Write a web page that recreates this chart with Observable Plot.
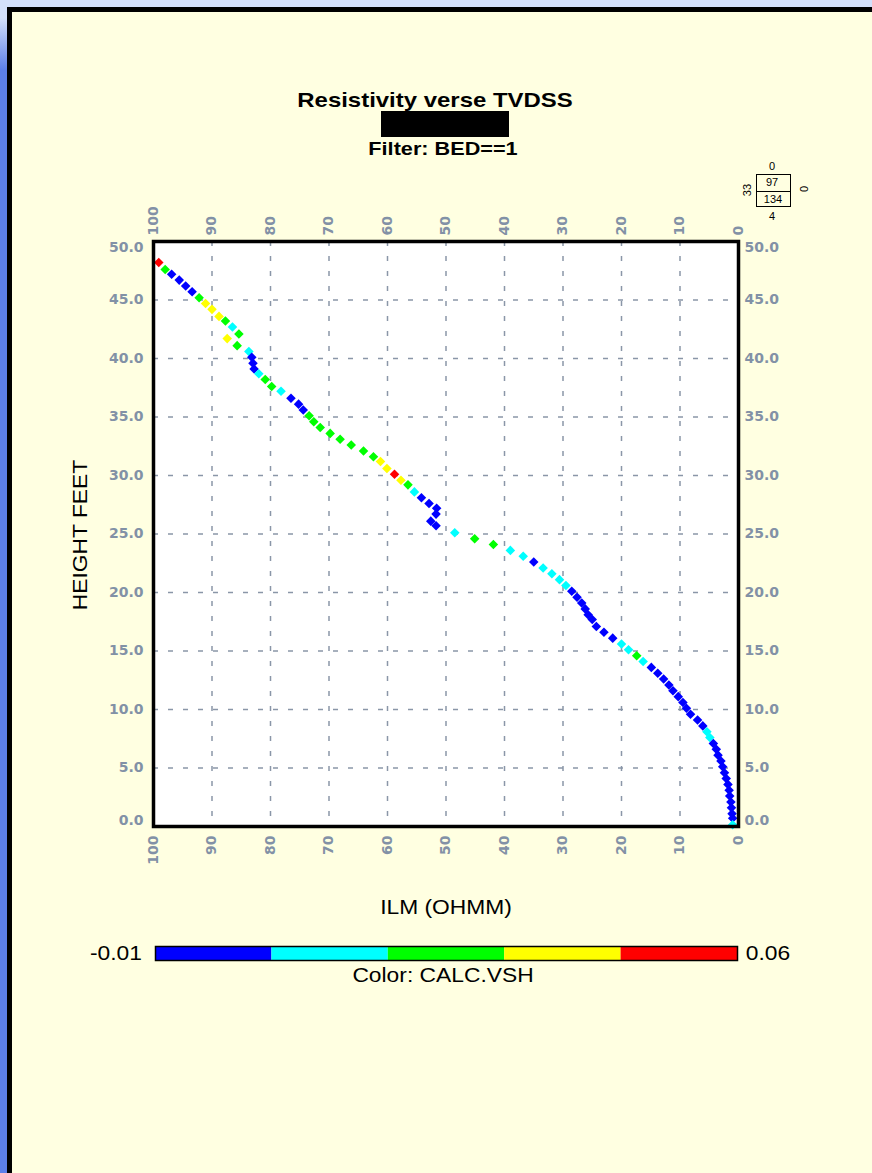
<!DOCTYPE html>
<html><head><meta charset="utf-8">
<script src="https://cdn.jsdelivr.net/npm/d3@7"></script>
<script src="https://cdn.jsdelivr.net/npm/@observablehq/plot@0.6"></script>
<style>
html,body{margin:0;padding:0;}
body{width:872px;height:1173px;position:relative;overflow:hidden;background:#d3e0fb;font-family:"Liberation Sans",Arial,sans-serif;}
#strip{position:absolute;left:0;top:0;width:8px;height:1173px;background:linear-gradient(#d3e0fb 0px,#d3e0fb 18px,#5c7fe9 70px,#5c7fe9 100%);}
#panel{position:absolute;left:7px;top:7px;right:0;bottom:0;background:#ffffe1;border-left:5px solid #000;border-top:5px solid #000;}
.t{position:absolute;white-space:nowrap;transform:translate(-50%,-50%) scaleX(1.14);color:#000;line-height:1;}
.s{position:absolute;white-space:nowrap;transform:translate(-50%,-50%);color:#000;line-height:1;font-size:11px;}
#chart,#cbar{position:absolute;left:0;}
#chart{top:0;}
#cbar{top:944px;}
#redact{position:absolute;left:381px;top:111px;width:128px;height:26px;background:#000;}
#box{position:absolute;left:756px;top:174px;width:35px;height:33px;border:1px solid #000;box-sizing:border-box;}
#box div{position:absolute;left:0;right:0;top:16px;border-top:1px solid #000;}
</style></head>
<body>
<div id="strip"></div>
<div id="panel"></div>
<div id="chart"></div>
<div id="cbar"></div>
<div class="t" style="left:435px;top:99px;font-size:21px;font-weight:bold;">Resistivity verse TVDSS</div>
<div id="redact"></div>
<div class="t" style="left:443px;top:148px;font-size:19px;font-weight:bold;">Filter: BED==1</div>
<div class="s" style="left:772px;top:166px;">0</div>
<div id="box"><div></div></div>
<div class="s" style="left:772px;top:182px;">97</div>
<div class="s" style="left:773px;top:199px;">134</div>
<div class="s" style="left:747px;top:190px;transform:translate(-50%,-50%) rotate(-90deg);">33</div>
<div class="s" style="left:804px;top:189px;transform:translate(-50%,-50%) rotate(-90deg);">0</div>
<div class="s" style="left:772px;top:216px;">4</div>
<div class="t" style="left:80px;top:535px;font-size:20px;transform:translate(-50%,-50%) rotate(-90deg) scaleX(1.14);">HEIGHT FEET</div>
<div class="t" style="left:446px;top:907px;font-size:20px;">ILM (OHMM)</div>
<div class="t" id="lmin" style="left:116px;top:953px;font-size:20px;"></div>
<div class="t" id="lmax" style="left:768px;top:953px;font-size:20px;"></div>
<div class="t" style="left:443px;top:975px;font-size:20px;">Color: CALC.VSH</div>
<script>
// ---- data ----
const ilm = [99.1,98.0,96.9,95.6,94.5,93.4,92.2,91.1,90.0,88.8,
  87.7,86.5,85.4,87.4,85.7,83.7,83.2,83.0,82.8,82.0,
  80.9,79.8,78.2,76.5,75.2,74.4,73.4,72.6,71.5,69.8,
  68.1,66.2,64.1,62.4,61.2,60.1,58.8,57.7,56.5,55.4,
  54.2,52.9,51.6,51.7,52.6,51.7,48.5,45.1,41.9,39.0,
  36.8,35.0,33.4,31.9,30.6,29.5,28.5,27.6,26.8,26.2,
  25.7,25.0,24.3,23.0,21.5,20.0,18.8,17.4,16.3,14.9,
  13.8,12.8,11.9,11.2,10.3,9.5,8.9,8.2,7.0,6.1,
  5.4,4.9,4.3,3.8,3.5,3.0,2.7,2.4,2.1,1.8,
  1.6,1.5,1.3,1.2,1.1,1.0,1.0];
const heightFeet = [48.2,47.6,47.2,46.7,46.2,45.7,45.2,44.7,44.2,43.6,
  43.2,42.7,42.1,41.7,41.1,40.6,40.1,39.6,39.1,38.7,
  38.2,37.6,37.2,36.6,36.1,35.6,35.1,34.6,34.1,33.6,
  33.1,32.6,32.1,31.6,31.2,30.6,30.1,29.6,29.2,28.6,
  28.1,27.6,27.2,26.7,26.1,25.7,25.1,24.6,24.1,23.6,
  23.1,22.6,22.1,21.6,21.1,20.6,20.1,19.6,19.1,18.6,
  18.1,17.7,17.1,16.6,16.1,15.6,15.1,14.6,14.1,13.6,
  13.1,12.6,12.1,11.6,11.1,10.6,10.1,9.6,9.1,8.6,
  8.1,7.6,7.1,6.6,6.1,5.6,5.1,4.6,4.1,3.6,
  3.1,2.6,2.1,1.6,1.1,0.7,0.15];
const vsh = [0.052,0.024,0.001,-0.002,0.000,0.002,0.027,0.038,0.041,0.036,
  0.022,0.012,0.026,0.040,0.023,0.010,0.001,-0.003,0.000,0.013,
  0.025,0.028,0.009,0.002,-0.001,0.000,0.021,0.024,0.027,0.030,
  0.025,0.022,0.026,0.028,0.037,0.042,0.051,0.039,0.024,0.011,
  0.001,-0.002,0.000,-0.004,0.002,0.000,0.012,0.027,0.023,0.010,
  0.014,0.003,0.009,0.011,0.015,0.008,
  0.002,-0.001,0.000,-0.003,0.001,0.003,-0.002,0.000,0.002,
  0.010,0.013,0.022,0.009,
  0.001,-0.002,0.000,0.002,-0.001,0.003,0.000,-0.003,0.001,0.002,0.003,
  0.006,0.008,
  0.002,0.001,-0.001,0.000,0.002,-0.002,0.001,0.000,-0.003,0.001,0.002,-0.001,0.000,0.001,
  0.007];
const vshBreaks = [-0.01, 0.004, 0.018, 0.032, 0.046, 0.06];
const vshColors = ["#0000ff", "#00ffff", "#00ff00", "#ffff00", "#ff0000"];
const xTicks = [0,10,20,30,40,50,60,70,80,90,100];
const yTicks = [0,5,10,15,20,25,30,35,40,45,50];

const data = ilm.map((v, i) => ({ilm: v, h: heightFeet[i], vsh: vsh[i]}));
const colorScale = {type: "threshold", domain: vshBreaks.slice(1, -1), range: vshColors};
const fmt = d3.format(".1f");
const grid = {stroke: "#8a96a8", strokeOpacity: 1, strokeWidth: 1.5, strokeDasharray: "5,10"};
const yMid = yTicks.filter(d => d > 0 && d < 50);
const yAxisOpts = (anchor, pad) => ({anchor, tickSize: 0, tickPadding: pad, tickFormat: fmt, label: null});

const chart = Plot.plot({
  width: 872, height: 900,
  marginTop: 241, marginBottom: 74, marginLeft: 153, marginRight: 134,
  style: {background: "transparent", fontFamily: "DejaVu Sans", fontSize: "14px", fontWeight: "bold", color: "#8291a6", overflow: "visible"},
  x: {domain: [0, 100], reverse: true},
  y: {domain: [0, 50]},
  color: colorScale,
  marks: [
    Plot.frame({fill: "white", stroke: null}),
    Plot.gridX(xTicks, grid),
    Plot.gridY(yTicks, grid),
    Plot.axisX(xTicks, {anchor: "top", tickSize: 0, tickPadding: 6, tickRotate: -90, label: null}),
    Plot.axisX(xTicks, {anchor: "bottom", tickSize: 0, tickPadding: 9, tickRotate: -90, label: null}),
    Plot.axisY(yMid, yAxisOpts("left", 10)),
    Plot.axisY([0], {...yAxisOpts("left", 10), dy: -6}),
    Plot.axisY([50], {...yAxisOpts("left", 10), dy: 6}),
    Plot.axisY(yMid, yAxisOpts("right", 6)),
    Plot.axisY([0], {...yAxisOpts("right", 6), dy: -6}),
    Plot.axisY([50], {...yAxisOpts("right", 6), dy: 6}),
    Plot.dot(data, {x: "ilm", y: "h", fill: "vsh", symbol: "diamond2", r: 4.3}),
    Plot.frame({stroke: "black", strokeWidth: 3.5})
  ]
});
document.getElementById("chart").append(chart);

// colour bar legend
const bins = vshColors.map((c, i) => ({x1: vshBreaks[i], x2: vshBreaks[i + 1], mid: (vshBreaks[i] + vshBreaks[i + 1]) / 2}));
const cbar = Plot.plot({
  width: 872, height: 18,
  marginTop: 2, marginBottom: 2, marginLeft: 155, marginRight: 135,
  style: {background: "transparent", overflow: "visible"},
  x: {domain: [vshBreaks[0], vshBreaks[vshBreaks.length - 1]], axis: null},
  color: colorScale,
  marks: [
    Plot.rect(bins, {x1: "x1", x2: "x2", fill: "mid"}),
    Plot.frame({stroke: "black", strokeWidth: 1.5})
  ]
});
document.getElementById("cbar").append(cbar);
document.getElementById("lmin").textContent = String(vshBreaks[0]);
document.getElementById("lmax").textContent = vshBreaks[vshBreaks.length - 1].toFixed(2);
</script>
</body></html>
